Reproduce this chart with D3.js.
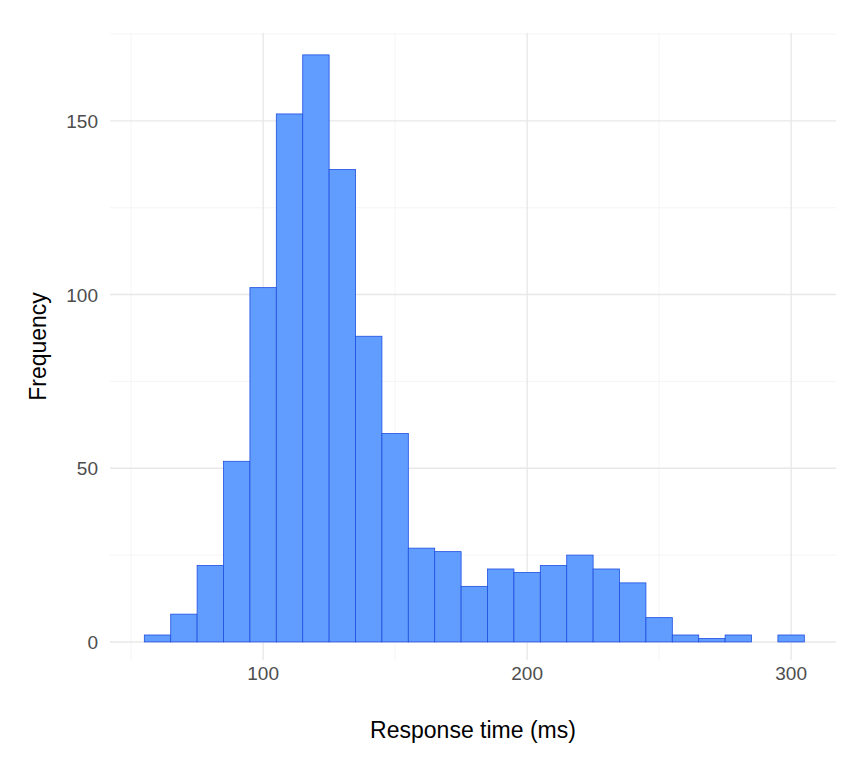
<!DOCTYPE html>
<html><head><meta charset="utf-8">
<script src="https://cdn.jsdelivr.net/npm/d3@7"></script>
<style>body{margin:0;background:#fff;font-family:"Liberation Sans",Arial,sans-serif}</style>
</head><body><svg id="c" width="864" height="768"></svg>
<script>
const binStarts = [55,65,75,85,95,105,115,125,135,145,155,165,175,185,195,205,215,225,235,245,255,265,275,285,295];
const binWidth = 10;
const counts = [2,8,22,52,102,152,169,136,88,60,27,26,16,21,20,22,25,21,17,7,2,1,2,0,2];
const xTicks = [100,200,300];
const xMinor = [50,150,250];
const yTicks = [0,50,100,150];
const yMinor = [25,75,125,175];

const svg = d3.select("#c");
const L=110,R=836,T=33,B=660;
const x = d3.scaleLinear().domain([42,317]).range([L,R]);
const y = d3.scaleLinear().domain([-5.2,175.3]).range([B,T]);
const g = svg.append("g");
xMinor.forEach(v=>g.append("line").attr("x1",x(v)).attr("x2",x(v)).attr("y1",T).attr("y2",B).attr("stroke","#f2f2f2").attr("stroke-width",0.8));
yMinor.forEach(v=>g.append("line").attr("x1",L).attr("x2",R).attr("y1",y(v)).attr("y2",y(v)).attr("stroke","#f2f2f2").attr("stroke-width",0.8));
xTicks.forEach(v=>g.append("line").attr("x1",x(v)).attr("x2",x(v)).attr("y1",T).attr("y2",B).attr("stroke","#e8e8e8").attr("stroke-width",1.4));
yTicks.forEach(v=>g.append("line").attr("x1",L).attr("x2",R).attr("y1",y(v)).attr("y2",y(v)).attr("stroke","#e8e8e8").attr("stroke-width",1.4));
svg.append("g").selectAll("rect").data(counts).join("rect")
  .attr("x",(d,i)=>x(binStarts[i])).attr("width",(d,i)=>x(binStarts[i]+binWidth)-x(binStarts[i]))
  .attr("y",d=>y(d)).attr("height",d=>y(0)-y(d))
  .attr("fill","#619CFF").attr("stroke","#1F4FE0").attr("stroke-width",0.8);
xTicks.forEach(v=>svg.append("text").attr("x",x(v)).attr("y",B+20).attr("text-anchor","middle").attr("font-size",19).attr("fill","#4d4d4d").text(v));
yTicks.forEach(v=>svg.append("text").attr("x",L-12).attr("y",y(v)+7).attr("text-anchor","end").attr("font-size",19).attr("fill","#4d4d4d").text(v));
svg.append("text").attr("x",(L+R)/2).attr("y",738).attr("text-anchor","middle").attr("font-size",23).attr("fill","#000").text("Response time (ms)");
svg.append("text").attr("transform",`translate(46,${(T+B)/2}) rotate(-90)`).attr("text-anchor","middle").attr("font-size",23).attr("fill","#000").text("Frequency");
</script></body></html>
